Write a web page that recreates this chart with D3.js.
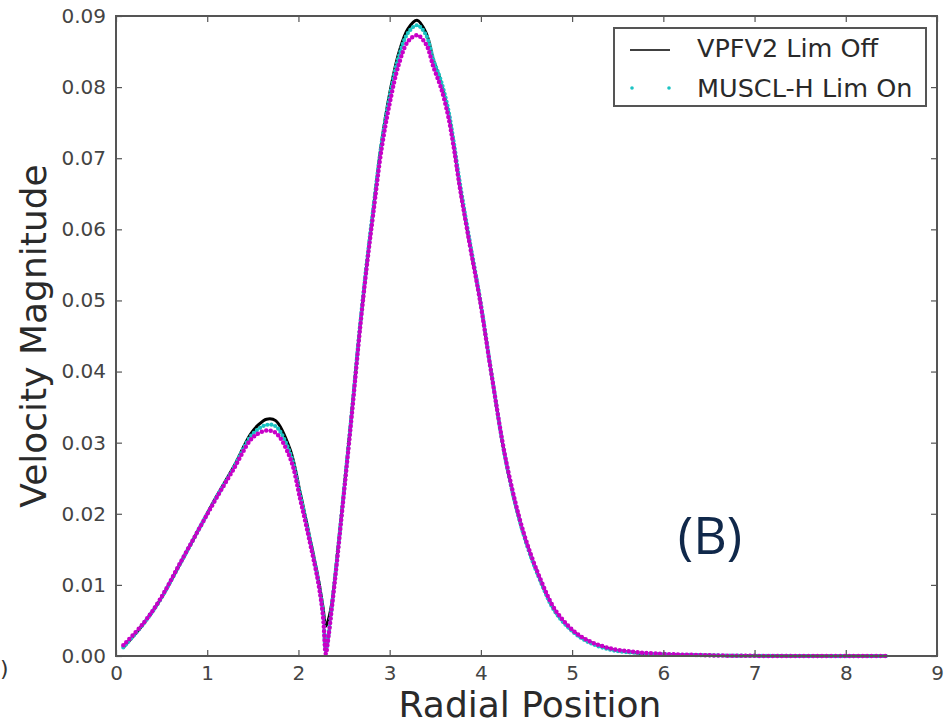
<!DOCTYPE html>
<html>
<head>
<meta charset="utf-8">
<script src="https://cdn.jsdelivr.net/npm/d3@7"></script>
<style>
  html, body { margin: 0; padding: 0; background: #fff; }
  svg { display: block; }
</style>
</head>
<body>
<svg id="chart" width="952" height="728"></svg>
<script>
// ---- Data ----
const radialPos = [0.08, 0.3, 0.48, 0.7, 0.92, 1.10, 1.29, 1.47, 1.56, 1.65, 1.75, 1.91, 2.02, 2.13, 2.22, 2.27, 2.30, 2.33, 2.37, 2.42, 2.49, 2.565, 2.60, 2.675, 2.75, 2.82, 2.91, 3.0, 3.1, 3.2, 3.3, 3.4, 3.48, 3.56, 3.64, 3.70, 3.77, 3.88, 3.99, 4.12, 4.28, 4.465, 4.65, 4.83, 5.09, 5.38, 5.74, 6.5, 7.5, 8.45];

const vpfv2LimOff = [0.0012, 0.0045, 0.0078, 0.0129, 0.0181, 0.0224, 0.0266, 0.0311, 0.0325, 0.0333, 0.0331, 0.0290, 0.0229, 0.0163, 0.0107, 0.0068, 0.0042, 0.0052, 0.0078, 0.0135, 0.0222, 0.0318, 0.0364, 0.0463, 0.0552, 0.0627, 0.0721, 0.0791, 0.0848, 0.0882, 0.0894, 0.0876, 0.0838, 0.0808, 0.0766, 0.0721, 0.0660, 0.0578, 0.0501, 0.0393, 0.0270, 0.0173, 0.0107, 0.0060, 0.0027, 0.0011, 0.0004, 0.0001, 0.0, 0.0];

const musclHLimOn = [0.0012, 0.0045, 0.0078, 0.0129, 0.0181, 0.0223, 0.0265, 0.0308, 0.0319, 0.0325, 0.0323, 0.0285, 0.0226, 0.0161, 0.0104, 0.0060, 0.0008, 0.0030, 0.0075, 0.0133, 0.0221, 0.0317, 0.0363, 0.0465, 0.0554, 0.0629, 0.0720, 0.0787, 0.0843, 0.0876, 0.0887, 0.0873, 0.0838, 0.0810, 0.0770, 0.0725, 0.0665, 0.0582, 0.0503, 0.0394, 0.0270, 0.0172, 0.0106, 0.0059, 0.0026, 0.0010, 0.0004, 0.0001, 0.0, 0.0];

const thirdSeries = [0.0015, 0.0046, 0.0079, 0.0130, 0.0181, 0.0222, 0.0263, 0.0303, 0.0313, 0.0317, 0.0314, 0.0278, 0.0220, 0.0157, 0.0101, 0.0055, 0.0003, 0.0028, 0.0072, 0.0130, 0.0218, 0.0313, 0.0359, 0.0460, 0.0549, 0.0622, 0.0712, 0.0777, 0.0832, 0.0864, 0.0873, 0.0860, 0.0828, 0.0800, 0.0760, 0.0717, 0.0658, 0.0577, 0.0500, 0.0393, 0.0272, 0.0175, 0.0109, 0.0062, 0.0028, 0.0012, 0.0005, 0.0001, 0.0, 0.0];

const xTicks = [0, 1, 2, 3, 4, 5, 6, 7, 8, 9];
const yTicks = [0.00, 0.01, 0.02, 0.03, 0.04, 0.05, 0.06, 0.07, 0.08, 0.09];
const legendLabels = ["VPFV2 Lim Off", "MUSCL-H Lim On"];
const xTitle = "Radial Position";
const yTitle = "Velocity Magnitude";
const panelLabel = "(B)";

// ---- Layout ----
const svg = d3.select("#chart");
const L = 116, R = 937, T = 16, B = 656;
const x = d3.scaleLinear().domain([0, 9]).range([L, R]);
const y = d3.scaleLinear().domain([0, 0.09]).range([B, T]);
const font = "DejaVu Sans, sans-serif";
const axisCol = "#555";
const textCol = "#444";

// piece of the neighbouring panel label at the left edge
svg.append("text").attr("x", 0).attr("y", 676)
  .attr("font-family", font).attr("font-size", 22).attr("fill", "#333").text(")");

// ---- Series ----
const line = d3.line().x((d, i) => x(radialPos[i])).y(d => y(d)).curve(d3.curveCatmullRom.alpha(0.5));
const g = svg.append("g");

g.append("path").datum(vpfv2LimOff).attr("d", line)
  .attr("fill", "none").attr("stroke", "#000").attr("stroke-width", 3);

g.append("path").datum(musclHLimOn).attr("d", line)
  .attr("fill", "none").attr("stroke", "#1cc3c3").attr("stroke-width", 4.2)
  .attr("stroke-linecap", "round").attr("stroke-dasharray", "0 4");

g.append("path").datum(thirdSeries).attr("d", line)
  .attr("fill", "none").attr("stroke", "#c800c8").attr("stroke-width", 4.5)
  .attr("stroke-linecap", "round").attr("stroke-dasharray", "0 4.5");

// ---- Axes (matplotlib-style inward ticks on all sides) ----
const tickLen = 6;
const xAxisB = d3.axisBottom(x).tickValues(xTicks).tickSizeInner(-tickLen).tickSizeOuter(0).tickPadding(10).tickFormat(d3.format("d"));
const xAxisT = d3.axisTop(x).tickValues(xTicks).tickSizeInner(-tickLen).tickSizeOuter(0).tickFormat("");
const yAxisL = d3.axisLeft(y).tickValues(yTicks).tickSizeInner(-tickLen).tickSizeOuter(0).tickPadding(10).tickFormat(d3.format(".2f"));
const yAxisR = d3.axisRight(y).tickValues(yTicks).tickSizeInner(-tickLen).tickSizeOuter(0).tickFormat("");

function styleAxis(sel) {
  sel.select(".domain").remove();
  sel.selectAll(".tick line").attr("stroke", axisCol).attr("stroke-width", 1.2);
  sel.selectAll(".tick text").attr("fill", textCol).attr("font-family", font).attr("font-size", 20);
}
svg.append("g").attr("transform", `translate(0,${B})`).call(xAxisB).call(styleAxis);
svg.append("g").attr("transform", `translate(0,${T})`).call(xAxisT).call(styleAxis);
svg.append("g").attr("transform", `translate(${L},0)`).call(yAxisL).call(styleAxis);
svg.append("g").attr("transform", `translate(${R},0)`).call(yAxisR).call(styleAxis);

svg.append("rect").attr("x", L).attr("y", T).attr("width", R - L).attr("height", B - T)
  .attr("fill", "none").attr("stroke", axisCol).attr("stroke-width", 2);

// ---- Titles ----
svg.append("text").attr("x", 530).attr("y", 717).attr("text-anchor", "middle")
  .attr("font-family", font).attr("font-size", 36).attr("fill", "#2a2a2a").text(xTitle);
svg.append("text").attr("transform", `translate(46,336) rotate(-90)`).attr("text-anchor", "middle")
  .attr("font-family", font).attr("font-size", 36).attr("fill", "#2a2a2a").text(yTitle);

svg.append("text").attr("x", 710).attr("y", 554).attr("text-anchor", "middle")
  .attr("font-family", "Open Sans, DejaVu Sans, sans-serif").attr("font-size", 52).attr("fill", "#10284a").text(panelLabel);

// ---- Legend ----
const lg = svg.append("g");
lg.append("rect").attr("x", 614).attr("y", 28).attr("width", 312).attr("height", 78)
  .attr("fill", "#fff").attr("stroke", axisCol).attr("stroke-width", 2);
lg.append("line").attr("x1", 630).attr("x2", 670).attr("y1", 50).attr("y2", 50)
  .attr("stroke", "#000").attr("stroke-width", 1.5);
[632, 669].forEach(cx => lg.append("circle").attr("cx", cx).attr("cy", 88).attr("r", 1.8).attr("fill", "#1cc3c3"));
legendLabels.forEach((t, i) => lg.append("text").attr("x", 697).attr("y", 57 + i * 40)
  .attr("font-family", font).attr("font-size", 25.5).attr("fill", "#2a2a2a").text(t));
</script>
</body>
</html>
